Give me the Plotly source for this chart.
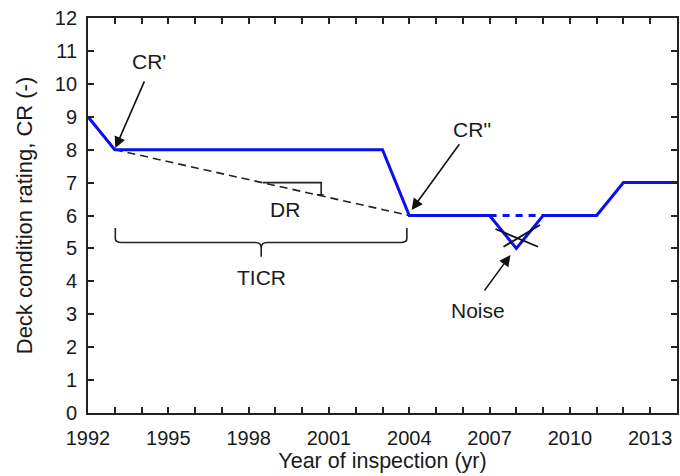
import plotly.graph_objects as go

# ---- data ----
years = [1992, 1993, 2003, 2004, 2007, 2008, 2009, 2011, 2012, 2014]
ratings = [9, 8, 8, 6, 6, 5, 6, 6, 7, 7]
dotted_years = [2007, 2009]
dotted_ratings = [6, 6]
trend_years = [1993, 2004]
trend_ratings = [8, 6]
cross1_x = [2007.22, 2008.81]
cross1_y = [5.59, 5.05]
cross2_x = [2007.52, 2008.88]
cross2_y = [5.05, 5.71]
x_tick_vals = [1992, 1995, 1998, 2001, 2004, 2007, 2010, 2013]
x_tick_text = ["1992", "1995", "1998", "2001", "2004", "2007", "2010", "2013"]
y_tick_vals = list(range(0, 13))

FONT = "Liberation Sans, Arial, sans-serif"
TXT = "#1a1a1a"
BLUE = "#0a0ff0"

fig = go.Figure()

fig.add_trace(go.Scatter(x=trend_years, y=trend_ratings, mode="lines",
                         line=dict(color="#222222", width=1.6, dash="8px,5px"),
                         showlegend=False, hoverinfo="skip"))
fig.add_trace(go.Scatter(x=dotted_years, y=dotted_ratings, mode="lines",
                         line=dict(color=BLUE, width=3, dash="7px,6px"),
                         showlegend=False, hoverinfo="skip"))
fig.add_trace(go.Scatter(x=years, y=ratings, mode="lines",
                         line=dict(color=BLUE, width=3),
                         showlegend=False, hoverinfo="skip"))
fig.add_trace(go.Scatter(x=cross1_x, y=cross1_y, mode="lines",
                         line=dict(color="#111111", width=1.8),
                         showlegend=False, hoverinfo="skip"))
fig.add_trace(go.Scatter(x=cross2_x, y=cross2_y, mode="lines",
                         line=dict(color="#111111", width=1.8),
                         showlegend=False, hoverinfo="skip"))

# brackets
brace = ("M 1993.02,5.62 L 1993.02,5.3 Q 1993.02,5.18 1993.25,5.18 "
         "L 1998.25,5.18 Q 1998.47,5.18 1998.47,5.02 L 1998.47,4.75 "
         "M 1998.47,5.02 Q 1998.47,5.18 1998.69,5.18 L 2003.68,5.18 "
         "Q 2003.91,5.18 2003.91,5.3 L 2003.91,5.62")
fig.add_shape(type="path", path=brace, xref="x", yref="y",
              line=dict(color="#222222", width=1.6))
dr = "M 1998.52,7.0 L 2000.71,7.0 L 2000.71,6.63 M 2000.55,6.63 L 2000.8,6.63"
fig.add_shape(type="path", path=dr, xref="x", yref="y",
              line=dict(color="#222222", width=1.6))

annots = []
def arrow(hx, hy, tx, ty):
    annots.append(dict(x=hx, y=hy, ax=tx, ay=ty, xref="x", yref="y",
                       axref="x", ayref="y", text="", showarrow=True,
                       arrowhead=2, arrowsize=1.4, arrowwidth=1.6,
                       arrowcolor="#111111", standoff=0, startstandoff=0))
def label(x, y, t):
    annots.append(dict(x=x, y=y, xref="x", yref="y", text=t, showarrow=False,
                       font=dict(family=FONT, size=21, color=TXT)))

arrow(1993.02, 8.05, 1994.13, 10.12)
arrow(2004.09, 6.17, 2005.91, 8.21)
arrow(2007.78, 4.8, 2006.77, 3.68)
label(1994.28, 10.67, "CR'")
label(2006.36, 8.62, "CR''")
label(1999.34, 6.17, "DR")
label(1998.47, 4.12, "TICR")
label(2006.58, 3.1, "Noise")

fig.update_layout(
    width=680, height=476,
    margin=dict(l=88, r=1, t=18, b=63),
    paper_bgcolor="white", plot_bgcolor="white",
    font=dict(family=FONT, color=TXT),
    annotations=annots,
    xaxis=dict(range=[1992, 2014], tickvals=x_tick_vals, ticktext=x_tick_text,
               ticks="inside", ticklen=6, tickwidth=1.5, tickcolor="#222",
               minor=dict(dtick=1, tick0=1992, ticks="inside", ticklen=6,
                          tickwidth=1.5, tickcolor="#222", showgrid=False),
               showline=True, linecolor="#222", linewidth=1.8, mirror="ticks",
               showgrid=False, zeroline=False, ticklabelstandoff=6,
               tickfont=dict(size=20, family=FONT, color=TXT),
               title=dict(text="Year of inspection (yr)",
                          font=dict(size=21.5, family=FONT, color=TXT),
                          standoff=2)),
    yaxis=dict(range=[0, 12], tickvals=y_tick_vals,
               ticks="inside", ticklen=6, tickwidth=1.5, tickcolor="#222",
               showline=True, linecolor="#222", linewidth=1.8, mirror="ticks",
               showgrid=False, zeroline=False, ticklabelstandoff=5,
               tickfont=dict(size=20, family=FONT, color=TXT),
               title=dict(text="Deck condition rating, CR (-)",
                          font=dict(size=22, family=FONT, color=TXT),
                          standoff=16)),
)

fig.write_html("out.html")
